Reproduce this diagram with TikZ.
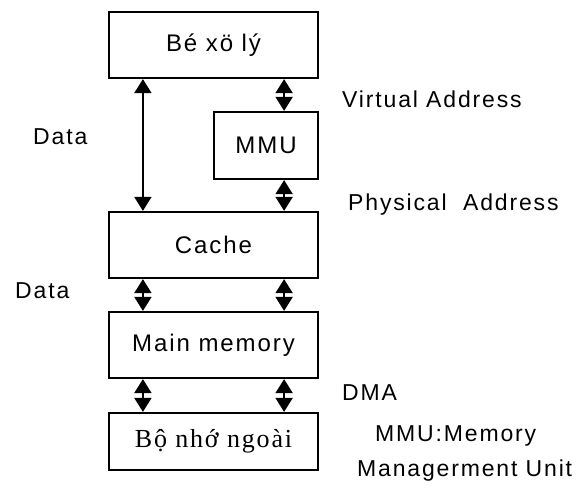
\documentclass[tikz,border=0pt]{standalone}
\usepackage{fontspec}
\newfontfamily\sfsp[LetterSpace=8]{Liberation Sans}
\newfontfamily\rmsp[LetterSpace=7]{Liberation Serif}
\usetikzlibrary{arrows.meta}
\tikzset{
  box/.style={draw, line width=2.2pt, inner sep=0pt, font=\sfsp\fontsize{24}{28}\selectfont},
  arr/.style={line width=1.8pt, {Triangle[width=17pt,length=14pt]}-{Triangle[width=17pt,length=14pt]}},
  lbl/.style={anchor=base west, inner sep=0pt, font=\sfsp\fontsize{23}{27}\selectfont}
}
\begin{document}
\begin{tikzpicture}[x=1pt,y=-1pt]
\useasboundingbox (0,0) rectangle (577,489);
\node[box, minimum width=209pt, minimum height=66pt] (cpu) at (213.5,45) {Bé xö lý};
\node[box, minimum width=104pt, minimum height=67pt] (mmu) at (266,145.5) {MMU};
\node[box, minimum width=209pt, minimum height=66pt] (cache) at (213.5,245) {Cache};
\node[box, minimum width=209pt, minimum height=66pt] (main) at (213.5,345) {Main memory};
\node[box, minimum width=209pt, minimum height=57pt, font=\rmsp\fontsize{26}{31}\selectfont] (ext) at (213.5,441.5) {Bộ nhớ ngoài};

\draw[arr] ([xshift=35pt]cpu.south west) -- ([xshift=35pt]cache.north west);
\draw[arr] ([xshift=-35pt]cpu.south east) -- ([xshift=-35pt]mmu.north east);
\draw[arr] ([xshift=-35pt]mmu.south east) -- ([xshift=-35pt]cache.north east);
\draw[arr] ([xshift=35pt]cache.south west) -- ([xshift=35pt]main.north west);
\draw[arr] ([xshift=-35pt]cache.south east) -- ([xshift=-35pt]main.north east);
\draw[arr] ([xshift=35pt]main.south west) -- ([xshift=35pt]ext.north west);
\draw[arr] ([xshift=-35pt]main.south east) -- ([xshift=-35pt]ext.north east);

\node[lbl] (va) at (342,108) {Virtual Address};
\node[lbl] (pa) at (348,210) {Physical\ \ Address};
\node[lbl] (d1) at (33,144) {Data};
\node[lbl] (d2) at (15,298) {Data};
\node[lbl] (dma) at (342,400) {DMA};
\node[lbl] (m1) at (375,441) {MMU:Memory};
\node[lbl] (m2) at (357,476) {Managerment Unit};
\end{tikzpicture}
\end{document}
